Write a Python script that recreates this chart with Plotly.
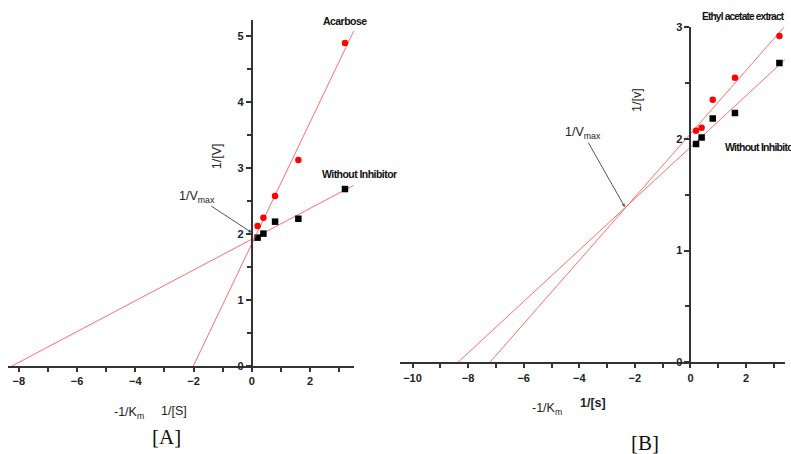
import numpy as np
import plotly.graph_objects as go

# ---- data ----
inv_s = [0.2, 0.4, 0.8, 1.6, 3.2]                       # 1/[S]
a_without = [1.944, 2.005, 2.186, 2.23, 2.68]           # panel A, without inhibitor
a_acarbose = [2.12, 2.247, 2.576, 3.12, 4.89]           # panel A, acarbose
b_without = [1.954, 2.014, 2.184, 2.232, 2.68]          # panel B, without inhibitor
b_extract = [2.073, 2.10, 2.351, 2.548, 2.921]          # panel B, ethyl acetate extract
a_fit_end = 3.5
b_fit_end = 3.6

RED = "#ff0000"
LINE = "rgba(255,60,60,0.75)"
AX = "#333333"
TICKFONT = dict(family="Liberation Sans, Arial", size=11, color="#222", weight="bold")


def fit_line(x, y, x_end):
    slope, inter = np.polyfit(x, y, 1)
    x0 = -inter / slope
    return [x0, x_end], [0.0, inter + slope * x_end]


fig = go.Figure()

# Panel A
for ys, sym, col in [(a_without, "square", "black"), (a_acarbose, "circle", RED)]:
    lx, ly = fit_line(inv_s, ys, a_fit_end)
    fig.add_trace(go.Scatter(x=lx, y=ly, mode="lines", line=dict(color=LINE, width=1),
                             xaxis="x", yaxis="y", showlegend=False, hoverinfo="skip"))
    fig.add_trace(go.Scatter(x=inv_s, y=ys, mode="markers", marker=dict(symbol=sym, color=col, size=6.5),
                             xaxis="x", yaxis="y", showlegend=False))

# Panel B
for ys, sym, col in [(b_without, "square", "black"), (b_extract, "circle", RED)]:
    lx, ly = fit_line(inv_s, ys, b_fit_end)
    fig.add_trace(go.Scatter(x=lx, y=ly, mode="lines", line=dict(color=LINE, width=1),
                             xaxis="x2", yaxis="y2", showlegend=False, hoverinfo="skip"))
    fig.add_trace(go.Scatter(x=inv_s, y=ys, mode="markers", marker=dict(symbol=sym, color=col, size=6.5),
                             xaxis="x2", yaxis="y2", showlegend=False))

W, H = 791, 454
a_xr = [-8.37, 3.51]
b_xr = [-10.45, 3.4]
a_dom = [8 / W, 354 / W]
b_dom = [400 / W, 785 / W]


def ypos(dom, xr):
    return dom[0] + (0 - xr[0]) / (xr[1] - xr[0]) * (dom[1] - dom[0])


common_x = dict(showgrid=False, zeroline=False, showline=True, linecolor=AX, linewidth=2,
                ticks="outside", ticklen=4, tickwidth=1.5, tickcolor=AX, tickfont=TICKFONT,
                automargin=False,
                minor=dict(dtick=1, ticks="outside", ticklen=4, tickcolor=AX, tickwidth=1.5))
common_y = dict(showgrid=False, zeroline=False, showline=True, linecolor=AX, linewidth=2,
                ticks="outside", ticklen=5, tickwidth=1.5, tickcolor=AX, tickfont=TICKFONT,
                automargin=False, dtick=1,
                minor=dict(dtick=0.5, ticks="outside", ticklen=4, tickcolor=AX, tickwidth=1.5))

fig.update_layout(
    width=W, height=H, margin=dict(l=0, r=0, t=0, b=0, autoexpand=False),
    paper_bgcolor="white", plot_bgcolor="white",
    xaxis=dict(domain=a_dom, range=a_xr, anchor="y", tickvals=[-8, -6, -4, -2, 0, 2], **common_x),
    yaxis=dict(domain=[(H - 366) / H, (H - 20) / H], range=[0, 5.24], anchor="free",
               position=ypos(a_dom, a_xr), **common_y),
    xaxis2=dict(domain=b_dom, range=b_xr, anchor="y2", tickvals=[-10, -8, -6, -4, -2, 0, 2], **common_x),
    yaxis2=dict(domain=[(H - 362.3) / H, (H - 27.3) / H], range=[0, 3.0], anchor="free",
                position=ypos(b_dom, b_xr), **common_y),
)

LBL = dict(family="Liberation Sans, Arial", size=10.5, color="#111", weight="bold")
REG = dict(family="Liberation Sans, Arial", size=12.5, color="#222")
SERIF = dict(family="Liberation Serif, Times New Roman", size=21, color="#111")


def px(xp, yp):
    return dict(x=xp / W, y=(H - yp) / H, xref="paper", yref="paper")


def narrow(t, sp=-0.55):
    return f'<span style="letter-spacing:{sp}px">{t}</span>'


ann = [
    # panel A
    dict(x=2.38, y=5.227, xref="x", yref="y", text=narrow("Acarbose"), xanchor="left", font=LBL),
    dict(x=2.34, y=2.91, xref="x", yref="y", text=narrow("Without Inhibitor"), xanchor="left", font=LBL),
    dict(x=0.0, y=2.02, xref="x", yref="y", text="1/V<sub>max</sub>", font=REG,
         showarrow=True, ax=-55, ay=-36, arrowhead=2, arrowsize=0.7, arrowwidth=1, arrowcolor="#555"),
    dict(x=-1.21, y=3.17, xref="x", yref="y", text="1/[V]", textangle=-90, font=REG),
    dict(**px(129, 413), text="-1/K<sub>m</sub>", xanchor="center", yanchor="middle", font=REG),
    dict(**px(174, 411), text="1/[S]", xanchor="center", yanchor="middle", font=REG),
    dict(**px(166, 437), text="[A]", xanchor="center", yanchor="middle", font=SERIF),
    # panel B
    dict(**px(700, 17), text=narrow("Ethyl acetate extract", -0.85), xanchor="left", yanchor="middle",
         font=dict(LBL, size=10.2)),
    dict(x=1.17, y=1.93, xref="x2", yref="y2", text=narrow("Without Inhibitor", -0.75), xanchor="left", font=LBL),
    dict(x=-2.36, y=1.39, xref="x2", yref="y2", text="1/V<sub>max</sub>", font=REG,
         showarrow=True, ax=-42, ay=-74, arrowhead=2, arrowsize=0.7, arrowwidth=1, arrowcolor="#555"),
    dict(x=-1.92, y=2.35, xref="x2", yref="y2", text="1/[v]", textangle=-90, font=REG),
    dict(**px(547, 409), text="-1/K<sub>m</sub>", xanchor="center", yanchor="middle", font=REG),
    dict(**px(593, 403), text="1/[s]", xanchor="center", yanchor="middle", font=dict(REG, weight="bold")),
    dict(**px(645, 443), text="[B]", xanchor="center", yanchor="middle", font=SERIF),
]
for a in ann:
    a.setdefault("showarrow", False)
    fig.add_annotation(**a)

fig.write_html("out.html", config={"displayModeBar": False},
               post_script="document.body.style.margin='0';")
